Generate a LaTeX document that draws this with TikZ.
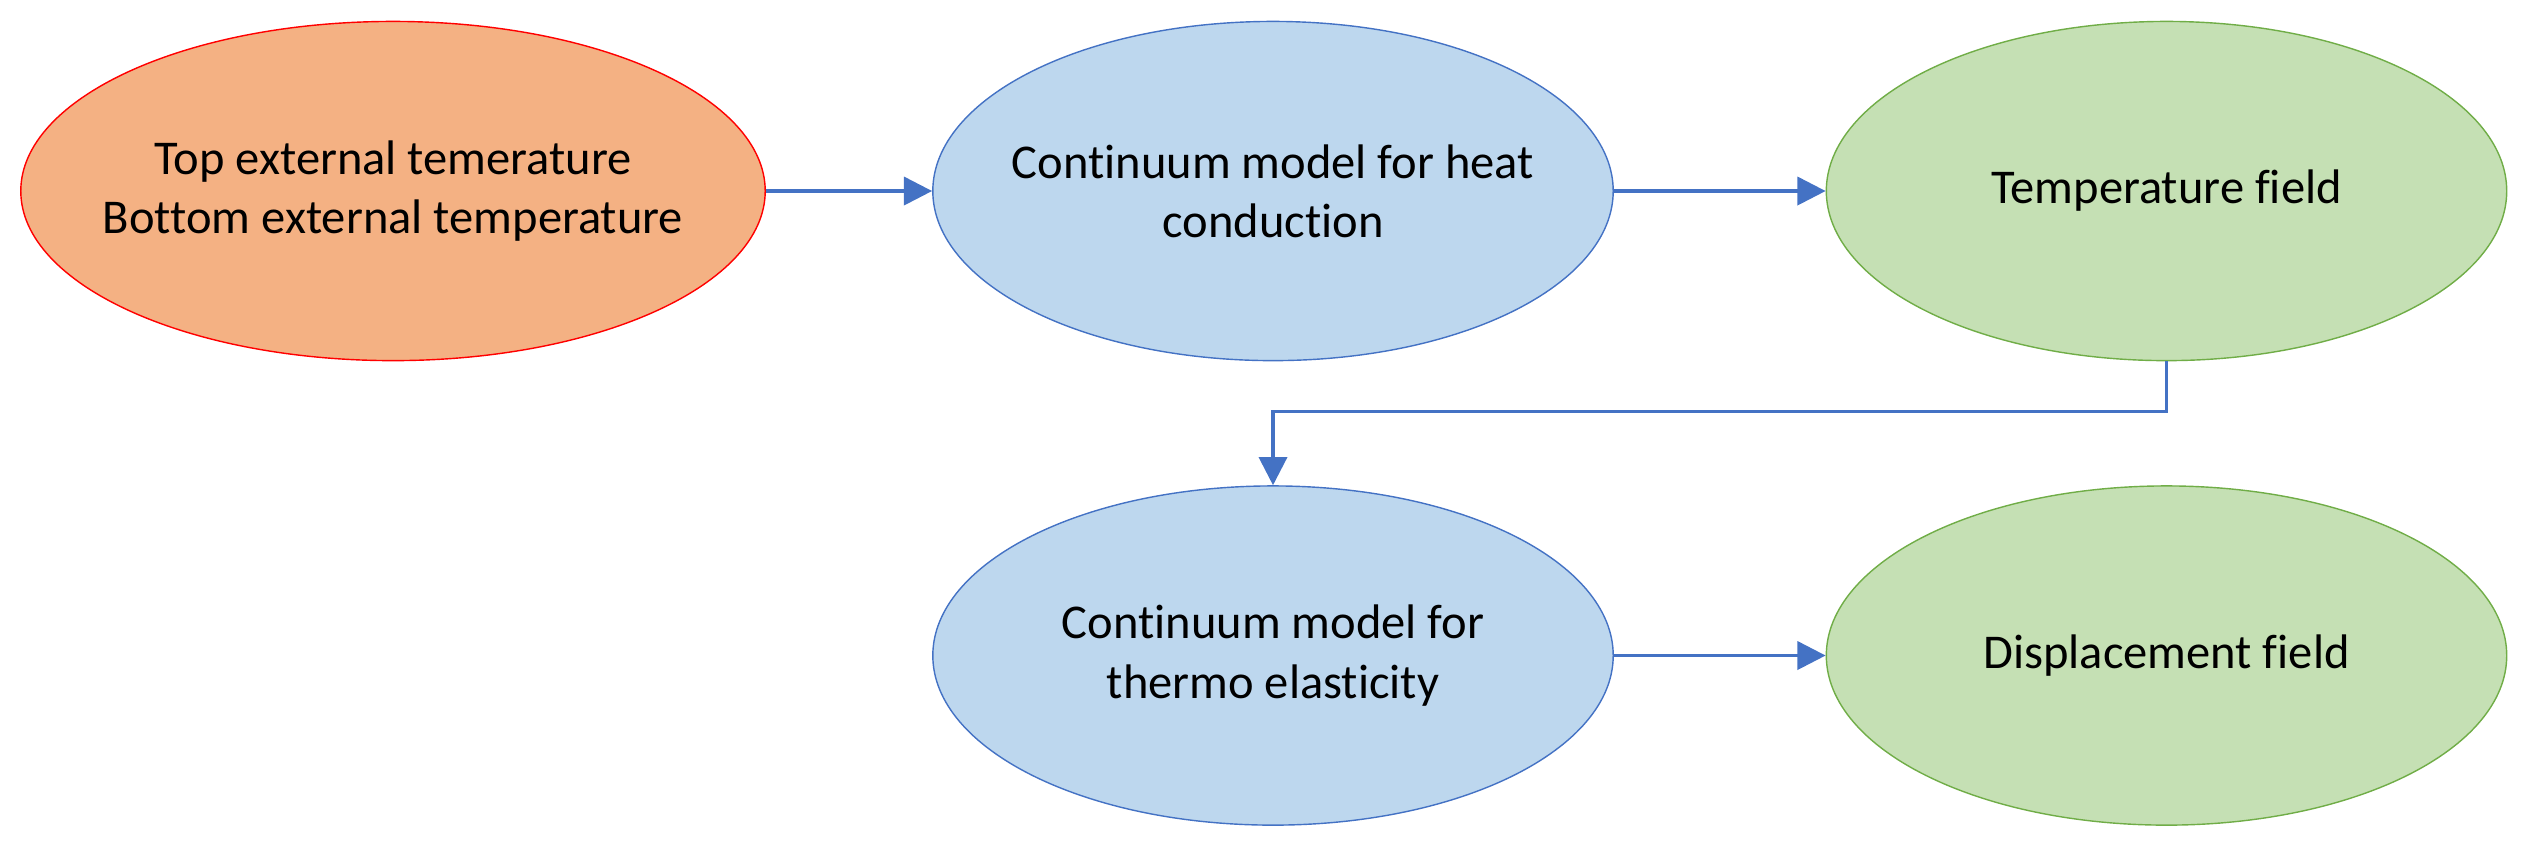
\documentclass[tikz,border=0pt]{standalone}
\usepackage{fontspec}
\setmainfont{Carlito}[Ligatures={NoCommon}]
\usetikzlibrary{shapes.geometric,arrows.meta}
\definecolor{orfill}{HTML}{F4B183}
\definecolor{ordraw}{HTML}{FF0000}
\definecolor{blfill}{HTML}{BDD7EE}
\definecolor{bldraw}{HTML}{4472C4}
\definecolor{grfill}{HTML}{C5E0B4}
\definecolor{grdraw}{HTML}{70AD47}
\definecolor{arrcol}{HTML}{4472C4}
\tikzset{
  txt/.style={align=center, font=\fontsize{13.8}{16.8}\selectfont},
  oval/.style={ellipse, inner sep=0pt, line width=0.4pt},
  wideoval/.style={oval, minimum width=7.44cm, minimum height=3.39cm},
  narrowoval/.style={oval, minimum width=6.80cm, minimum height=3.39cm},
  orangeoval/.style={wideoval, fill=orfill, draw=ordraw},
  blueoval/.style={narrowoval, fill=blfill, draw=bldraw},
  greenoval/.style={narrowoval, fill=grfill, draw=grdraw},
  arr/.style={draw=arrcol, line width=0.9pt, -{Triangle[length=8pt,width=8pt]}, arrows={[fill=arrcol]}}
}
\begin{document}
\begin{tikzpicture}[x=0.01cm, y=-0.01cm]
\useasboundingbox (0,0) rectangle (2528,847);
\node[orangeoval, label={[txt]center:{Top external temerature\\Bottom external temperature}}] (e1) at (393,191) {};
\node[blueoval, label={[txt]center:{Continuum model for heat\\conduction}}] (e2) at (1273,191) {};
\node[greenoval, label={[txt]center:{Temperature field}}] (e3) at (2166.5,191) {};
\node[blueoval, label={[txt]center:{Continuum model for\\thermo elasticity}}] (e4) at (1273,655.5) {};
\node[greenoval, label={[txt]center:{Displacement field}}] (e5) at (2166.5,655.5) {};
\draw[arr] (e1.east) -- (e2.west);
\draw[arr] (e2.east) -- (e3.west);
\draw[arr] (e3.south) -- ++(0,50) -| (e4.north);
\draw[arr] (e4.east) -- (e5.west);
\end{tikzpicture}
\end{document}
